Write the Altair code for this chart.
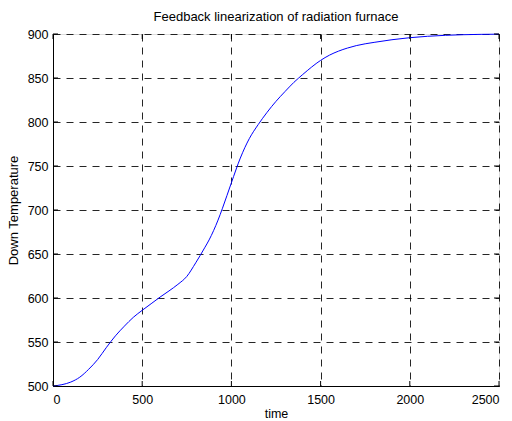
import altair as alt
import pandas as pd

time = [0, 50, 100, 150, 200, 250, 300, 350, 400, 450, 500, 550, 600, 650, 700,
        750, 800, 850, 875, 900, 925, 950, 1000, 1050, 1100, 1150, 1200, 1250,
        1300, 1350, 1400, 1450, 1500, 1550, 1600, 1650, 1700, 1800, 1900, 2000,
        2100, 2200, 2300, 2400, 2500]
temp = [500, 501.5, 504.5, 510, 519, 530, 544, 557, 568, 578, 586, 593.5, 601, 608, 615.5,
        624.5, 640, 657, 666, 676.5, 688.5, 702, 731, 759, 781, 797, 811, 823.5,
        834.5, 845, 854, 862.5, 870, 876, 880.5, 884, 886.8, 890.5, 893.5, 895.8,
        897.4, 898.5, 899.2, 899.6, 899.8]

x_ticks = [0, 500, 1000, 1500, 2000, 2500]
y_ticks = [500, 550, 600, 650, 700, 750, 800, 850, 900]

df = pd.DataFrame({"time": time, "temp": temp})
xt = pd.DataFrame({"t": x_ticks})
yt = pd.DataFrame({"v": y_ticks})

W, H = 446, 352
FONT = "Liberation Sans"
LBL = 12.5
TTL = 13

xscale = alt.Scale(domain=[0, 2500], nice=False, zero=False)
yscale = alt.Scale(domain=[500, 900], nice=False, zero=False)

common = dict(format="d", grid=True, gridDash=[7, 6], gridColor="#000000",
              gridOpacity=0.85, tickSize=0, domainColor="#000000",
              labelColor="#000000", titleColor="#000000", labelFontSize=LBL,
              labelFont=FONT, titleFont=FONT, titleFontWeight="normal")

line = alt.Chart(df).mark_line(color="#0000FF", strokeWidth=1, interpolate="monotone").encode(
    x=alt.X("time:Q", scale=xscale,
            axis=alt.Axis(title="time", values=x_ticks, labelPadding=7,
                          titlePadding=2, titleFontSize=12.5, **common)),
    y=alt.Y("temp:Q", scale=yscale,
            axis=alt.Axis(title="Down Temperature", values=y_ticks, labelPadding=5,
                          titlePadding=7, titleFontSize=TTL, **common)),
)

# inward ticks (MATLAB style)
xb = alt.Chart(xt).mark_rule(color="black", strokeWidth=1).encode(
    x=alt.X("t:Q", scale=xscale), y=alt.value(H - 5), y2=alt.value(H))
xtop = alt.Chart(xt).mark_rule(color="black", strokeWidth=1).encode(
    x=alt.X("t:Q", scale=xscale), y=alt.value(0), y2=alt.value(5))
yl = alt.Chart(yt).mark_rule(color="black", strokeWidth=1).encode(
    y=alt.Y("v:Q", scale=yscale), x=alt.value(0), x2=alt.value(5))
yr = alt.Chart(yt).mark_rule(color="black", strokeWidth=1).encode(
    y=alt.Y("v:Q", scale=yscale), x=alt.value(W - 5), x2=alt.value(W))

chart = alt.layer(line, xb, xtop, yl, yr).properties(
    width=W, height=H,
    title=alt.Title("Feedback linearization of radiation furnace", font=FONT,
                    fontSize=TTL, fontWeight="normal", color="#000000", offset=4),
    autosize=alt.AutoSizeParams(type="none"),
    padding={"left": 53, "top": 34, "right": 13, "bottom": 35},
).configure_view(stroke="#000000", strokeWidth=1).configure(background="white")

chart.save("out.html", embed_options={"renderer": "svg", "actions": False})
